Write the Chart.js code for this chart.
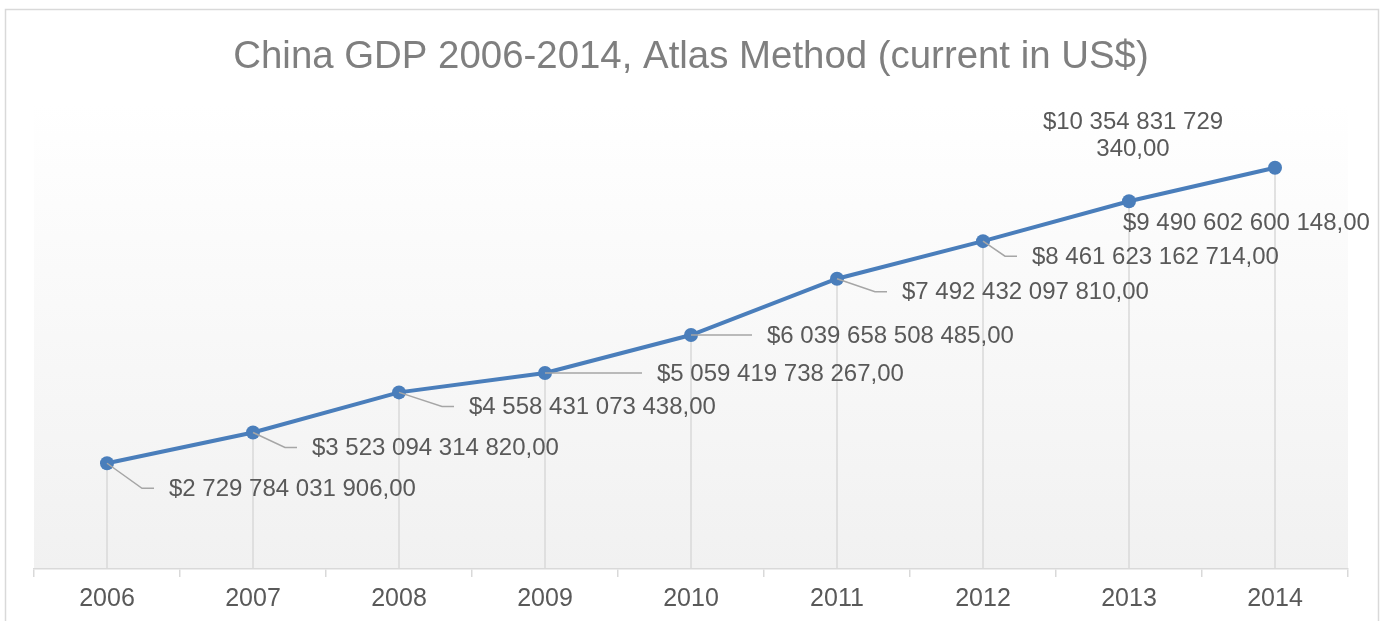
<!DOCTYPE html>
<html>
<head>
<meta charset="utf-8">
<script src="https://cdn.jsdelivr.net/npm/chart.js@4.4.1/dist/chart.umd.min.js"></script>
<style>
  html, body { margin: 0; padding: 0; background: #ffffff; }
  canvas { display: block; }
</style>
</head>
<body>
<canvas id="c" width="1385" height="621"></canvas>
<script>
// ---- data ----
const years = ['2006', '2007', '2008', '2009', '2010', '2011', '2012', '2013', '2014'];
const gdpValues = [
  2729784031906, 3523094314820, 4558431073438, 5059419738267, 6039658508485,
  7492432097810, 8461623162714, 9490602600148, 10354831729340
];
const chartTitle = 'China GDP 2006-2014, Atlas Method (current in US$)';
const yMin = 0;
const yMax = 12000000000000;

// ---- label formatting ----
function fmtMoney(v) {
  const s = Math.round(v).toString();
  const groups = [];
  for (let i = s.length; i > 0; i -= 3) groups.unshift(s.substring(Math.max(0, i - 3), i));
  return '$' + groups.join(' ') + ',00';
}

const FONT = '"Liberation Sans", Arial, Helvetica, sans-serif';
const TEXT_COLOR = '#595959';
const LINE_COLOR = '#4A7EBB';

// background, frame and drop lines
const decorPlugin = {
  id: 'decor',
  beforeDraw(chart) {
    const { ctx, chartArea: a } = chart;
    ctx.save();
    ctx.fillStyle = '#ffffff';
    ctx.fillRect(0, 0, chart.width, chart.height);
    const g = ctx.createLinearGradient(0, a.top, 0, a.bottom);
    g.addColorStop(0, '#ffffff');
    g.addColorStop(1, '#f1f1f1');
    ctx.fillStyle = g;
    ctx.fillRect(a.left, a.top, a.right - a.left, a.bottom - a.top);
    ctx.strokeStyle = '#d9d9d9';
    ctx.lineWidth = 1.5;
    ctx.strokeRect(5.5, 9.5, 1373, 700);
    ctx.restore();
  },
  beforeDatasetsDraw(chart) {
    const { ctx, chartArea: a } = chart;
    const meta = chart.getDatasetMeta(0);
    ctx.save();
    ctx.strokeStyle = '#d9d9d9';
    ctx.lineWidth = 1.5;
    meta.data.forEach(pt => {
      ctx.beginPath();
      ctx.moveTo(pt.x, pt.y);
      ctx.lineTo(pt.x, a.bottom);
      ctx.stroke();
    });
    ctx.restore();
  }
};

// data labels with leader lines
const labelPlugin = {
  id: 'gdpLabels',
  afterDatasetsDraw(chart, args, opts) {
    const { ctx } = chart;
    const meta = chart.getDatasetMeta(0);
    const values = chart.data.datasets[0].data;
    ctx.save();
    ctx.font = opts.fontSize + 'px ' + FONT;
    ctx.fillStyle = TEXT_COLOR;
    ctx.textBaseline = 'middle';
    meta.data.forEach((pt, i) => {
      const p = opts.placement[i];
      const text = fmtMoney(values[i]);
      const tx = pt.x + p.dx;
      const ty = pt.y + p.dy;
      if (p.leader) {
        ctx.strokeStyle = '#a6a6a6';
        ctx.lineWidth = 1.5;
        ctx.beginPath();
        ctx.moveTo(pt.x, pt.y);
        if (p.dy !== 0) ctx.lineTo(tx - 27, ty);
        ctx.lineTo(tx - 15, ty);
        ctx.stroke();
      }
      const textY = ty + opts.textShift;
      if (p.wrap) {
        const cut = text.lastIndexOf(' ');
        const lines = [text.substring(0, cut), text.substring(cut + 1)];
        ctx.textAlign = 'center';
        lines.forEach((ln, k) => ctx.fillText(ln, tx, textY + k * p.lineGap));
      } else {
        ctx.textAlign = 'left';
        ctx.fillText(text, tx, textY);
      }
    });
    ctx.restore();
  }
};

new Chart(document.getElementById('c'), {
  type: 'line',
  data: {
    labels: years,
    datasets: [{
      data: gdpValues,
      borderColor: LINE_COLOR,
      backgroundColor: LINE_COLOR,
      borderWidth: 4,
      pointRadius: 7,
      pointBorderWidth: 0,
      pointBackgroundColor: LINE_COLOR,
      tension: 0,
      fill: false,
      clip: false
    }]
  },
  options: {
    responsive: false,
    animation: false,
    events: [],
    layout: { padding: { left: 34, right: 37, top: 0, bottom: 0 } },
    plugins: {
      legend: { display: false },
      tooltip: { enabled: false },
      title: {
        display: true,
        text: chartTitle,
        color: '#7f7f7f',
        font: { family: FONT, size: 38.4, weight: 'normal', lineHeight: 1.2 },
        padding: { top: 34, bottom: 24 }
      },
      gdpLabels: {
        fontSize: 24,
        textShift: 1,
        placement: [
          { dx: 62, dy: 25, leader: true },
          { dx: 59, dy: 15, leader: true },
          { dx: 70, dy: 14, leader: true },
          { dx: 112, dy: 0, leader: true },
          { dx: 76, dy: 0, leader: true },
          { dx: 65, dy: 13, leader: true },
          { dx: 49, dy: 15, leader: true },
          { dx: -6, dy: 21, leader: false },
          { dx: -142, dy: -46, leader: false, wrap: true, lineGap: 27 }
        ]
      }
    },
    scales: {
      x: {
        type: 'category',
        offset: true,
        grid: {
          display: true,
          offset: true,
          drawOnChartArea: false,
          drawTicks: true,
          tickLength: 8,
          color: '#d9d9d9',
          lineWidth: 1.5
        },
        border: { display: true, color: '#d9d9d9', width: 1.5 },
        ticks: {
          color: TEXT_COLOR,
          padding: 7,
          font: { family: FONT, size: 25, lineHeight: 1.2 },
          maxRotation: 0,
          autoSkip: false
        }
      },
      y: {
        display: false,
        min: yMin,
        max: yMax
      }
    }
  },
  plugins: [decorPlugin, labelPlugin]
});
</script>
</body>
</html>
